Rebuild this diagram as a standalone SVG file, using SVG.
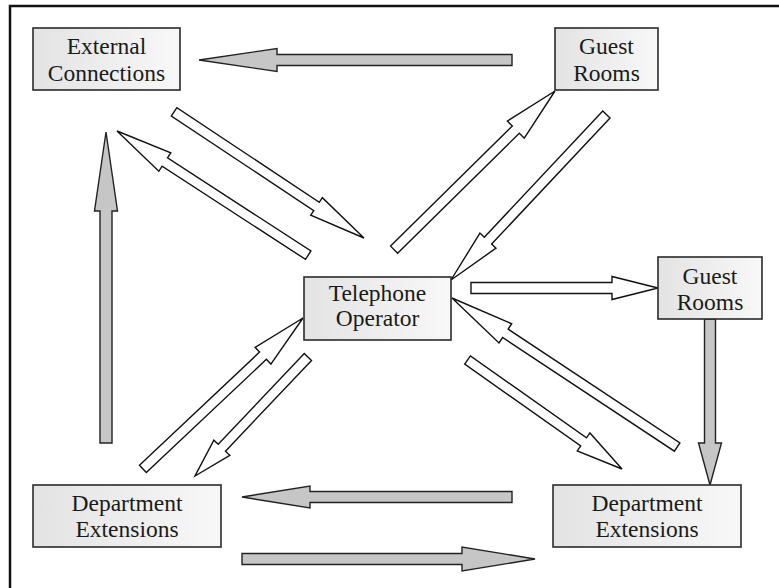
<svg xmlns="http://www.w3.org/2000/svg" width="779" height="588" viewBox="0 0 779 588">
  <defs>
    <linearGradient id="boxFill" x1="0" y1="0" x2="1" y2="0">
      <stop offset="0" stop-color="#e3e3e3"/>
      <stop offset="1" stop-color="#f8f8f8"/>
    </linearGradient>
    <style>
      .frame { fill: none; stroke: #111; stroke-width: 2.5; }
      .box { fill: url(#boxFill); stroke: #2a2a2a; stroke-width: 1.6; }
      .label { font-family: "Liberation Serif", "Times New Roman", Times, "Nimbus Roman", "Nimbus Roman No9 L", "FreeSerif", "Noto Serif", Tinos, "DejaVu Serif", serif; font-size: 23.5px; fill: #1a1a1a; text-anchor: middle; }
      .gray { fill: #c6c6c6; stroke: #222; stroke-width: 1.4; stroke-linejoin: miter; }
      .hollow { fill: #fff; stroke: #111; stroke-width: 1.4; stroke-linejoin: miter; }
    </style>
  </defs>

  <rect width="779" height="588" fill="#fff"/>
  <!-- outer frame (only top and left edges fall inside the canvas) -->
  <path class="frame" d="M10,590 V6 H781"/>

  <!-- connectors: block arrows, drawn in local coords with the tip at the origin pointing along +x -->
  <g id="connectors">
    <!-- grey flows -->
    <polygon class="gray" transform="translate(199,60) rotate(180)" points="0,0 -78,-11.5 -78,-5.5 -313,-5.5 -313,5.5 -78,5.5 -78,11.5"/>
    <polygon class="gray" transform="translate(106,132) rotate(-90)" points="0,0 -79,-11.5 -79,-6 -311,-6 -311,6 -79,6 -79,11.5"/>
    <polygon class="gray" transform="translate(710,485) rotate(90)" points="0,0 -42,-11.5 -42,-5.5 -166,-5.5 -166,5.5 -42,5.5 -42,11.5"/>
    <polygon class="gray" transform="translate(242,497) rotate(180)" points="0,0 -68,-11 -68,-5.5 -270,-5.5 -270,5.5 -68,5.5 -68,11"/>
    <polygon class="gray" transform="translate(535,559) rotate(0)" points="0,0 -73,-12 -73,-5.5 -293,-5.5 -293,5.5 -73,5.5 -73,12"/>

    <!-- hollow flows to and from the operator -->
    <polygon class="hollow" transform="translate(658,288) rotate(0)" points="0,0 -46,-11.5 -46,-5.5 -187,-5.5 -187,5.5 -46,5.5 -46,11.5"/>
    <polygon class="hollow" transform="translate(364,238) rotate(33.6)" points="0,0 -57,-10.5 -57,-5 -228,-5 -228,5 -57,5 -57,10.5"/>
    <polygon class="hollow" transform="translate(117,131) rotate(213)" points="0,0 -57,-11 -57,-5 -228,-5 -228,5 -57,5 -57,11"/>
    <polygon class="hollow" transform="translate(555,91) rotate(-44.6)" points="0,0 -55,-12 -55,-5 -226,-5 -226,5 -55,5 -55,12"/>
    <polygon class="hollow" transform="translate(451,280) rotate(133.2)" points="0,0 -54,-11 -54,-5 -227,-5 -227,5 -54,5 -54,11"/>
    <polygon class="hollow" transform="translate(452,298) rotate(213.5)" points="0,0 -64,-11.5 -64,-5 -270,-5 -270,5 -64,5 -64,11.5"/>
    <polygon class="hollow" transform="translate(622,469) rotate(35.2)" points="0,0 -47,-11 -47,-5 -189,-5 -189,5 -47,5 -47,11"/>
    <polygon class="hollow" transform="translate(303,318) rotate(-43.3)" points="0,0 -55,-11.5 -55,-5 -220,-5 -220,5 -55,5 -55,11.5"/>
    <polygon class="hollow" transform="translate(195,476) rotate(133.5)" points="0,0 -39,-11 -39,-5 -164,-5 -164,5 -39,5 -39,11"/>
  </g>

  <g id="external-connections">
    <rect class="box" x="33" y="28" width="147" height="62"/>
    <text class="label" x="106.5" y="54">External</text>
    <text class="label" x="106.5" y="80.5">Connections</text>
  </g>

  <g id="guest-rooms-top">
    <rect class="box" x="555" y="28" width="103" height="62"/>
    <text class="label" x="606.5" y="53.5">Guest</text>
    <text class="label" x="606.5" y="80.5">Rooms</text>
  </g>

  <g id="telephone-operator">
    <rect class="box" x="304" y="277" width="147" height="63"/>
    <text class="label" x="377.5" y="300.5">Telephone</text>
    <text class="label" x="377.5" y="325.5">Operator</text>
  </g>

  <g id="guest-rooms-right">
    <rect class="box" x="658" y="257" width="104" height="62"/>
    <text class="label" x="710" y="283.5">Guest</text>
    <text class="label" x="710" y="309.5">Rooms</text>
  </g>

  <g id="department-extensions-left">
    <rect class="box" x="33" y="485" width="188" height="62"/>
    <text class="label" x="127" y="510.5">Department</text>
    <text class="label" x="127" y="537">Extensions</text>
  </g>

  <g id="department-extensions-right">
    <rect class="box" x="553" y="485" width="188" height="62"/>
    <text class="label" x="647" y="510.5">Department</text>
    <text class="label" x="647" y="537">Extensions</text>
  </g>
</svg>
